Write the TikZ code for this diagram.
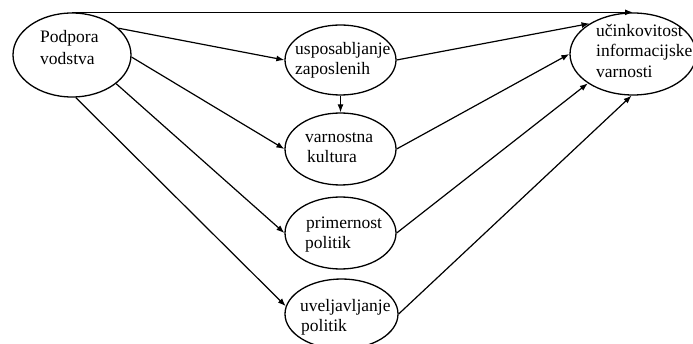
\documentclass[tikz,border=0pt]{standalone}
\usepackage{fontspec}
\setmainfont{Liberation Serif}
\usetikzlibrary{shapes.geometric,arrows.meta}
\tikzset{
  oval/.style={draw, ellipse, line width=1.3pt, inner sep=0pt},
  lbl/.style={anchor=base west, inner sep=0pt, font=\fontsize{17.5}{20.5}\selectfont},
  conn/.style={line width=1.2pt, -{Latex[length=8pt,width=6pt]}}
}
\begin{document}
\begin{tikzpicture}[x=1pt,y=-1pt]
\useasboundingbox (0,0) rectangle (693,344);
% ellipses
\node[oval, minimum width=118pt, minimum height=84pt] (P) at (72,55) {};
\node[oval, minimum width=111pt, minimum height=70pt] (A) at (340.5,60) {};
\node[oval, minimum width=111pt, minimum height=72pt] (B) at (340.5,149) {};
\node[oval, minimum width=111pt, minimum height=72pt] (C) at (340.5,233) {};
\node[oval, minimum width=113pt, minimum height=70pt] (D) at (341.5,314) {};
\node[oval, minimum width=126pt, minimum height=82pt] (U) at (633,54) {};
% texts
\node[lbl] (p1) at (40,43) {Podpora};
\node[lbl] (p2) at (40,65) {vodstva};
\node[lbl] (a1) at (295,55) {usposabljanje};
\node[lbl] (a2) at (295,75) {zaposlenih};
\node[lbl] (b1) at (305,143) {varnostna};
\node[lbl] (b2) at (307,163) {kultura};
\node[lbl] (c1) at (306,229) {primernost};
\node[lbl] (c2) at (305,249) {politik};
\node[lbl] (d1) at (300,312) {uveljavljanje};
\node[lbl] (d2) at (301,331) {politik};
\node[lbl] (u1) at (596,37) {učinkovitost};
\node[lbl] (u2) at (596,57) {informacijske};
\node[lbl] (u3) at (596,78) {varnosti};
% connectors
\draw[conn] (P.north) -- (U.north);
\draw[conn] (P.30) -- (A.west);
\draw[conn] (P.-2) -- (B.west);
\draw[conn] (P.-33) -- (C.west);
\draw[conn] (P.-85) -- (D.172);
\draw[conn] (A.south) -- (B.north);
\draw[conn] (A.east) -- (U.145);
\draw[conn] (B.east) -- (U.180);
\draw[conn] (C.east) -- (U.-147);
\draw[conn] (D.east) -- (U.-92);
\end{tikzpicture}
\end{document}
